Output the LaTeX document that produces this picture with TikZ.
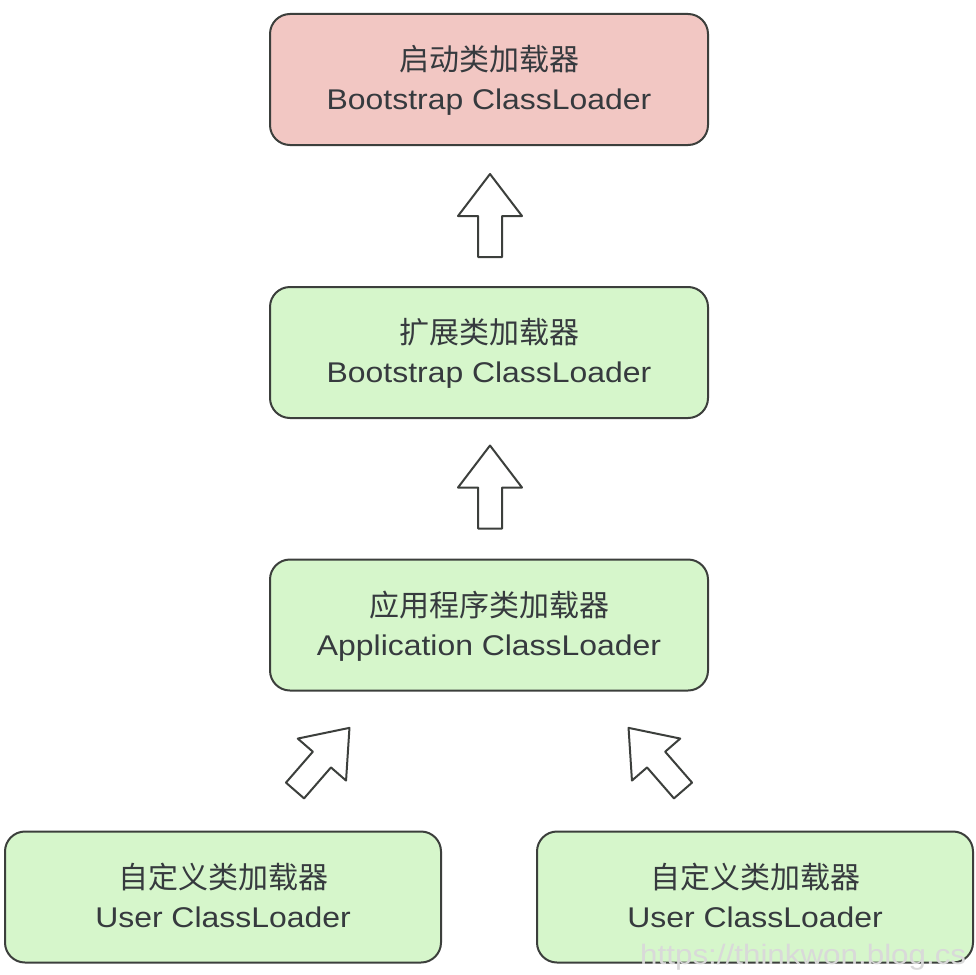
\documentclass[tikz,border=0pt]{standalone}
\usepackage{fontspec}
\setmainfont{Noto Sans CJK SC}
\newfontfamily\cnfont{Noto Sans CJK SC}
\newfontfamily\enfont[FakeStretch=1.12]{Liberation Sans}
\usetikzlibrary{calc}
\definecolor{pinkfill}{HTML}{F2C7C3}
\definecolor{greenfill}{HTML}{D6F6CB}
\definecolor{edge}{HTML}{3C3F3C}
\definecolor{txt}{HTML}{363A3E}
\tikzset{
  loader/.style={draw=edge, line width=2pt, rounded corners=20pt, minimum width=438pt, minimum height=131pt, inner sep=0pt},
  greenbox/.style={loader, fill=greenfill},
  pinkbox/.style={loader, fill=pinkfill},
  cntext/.style={anchor=base, inner sep=0pt, text=txt, font=\cnfont\fontsize{30}{36}\selectfont},
  entext/.style={anchor=base, inner sep=0pt, text=txt, font=\enfont\fontsize{28.5}{34}\selectfont},
  blockarrow/.pic={\draw[draw=edge, line width=2pt, line join=round, fill=white]
     (0,12) -- (41,12) -- (41,32) -- (83,0) -- (41,-32) -- (41,-12) -- (0,-12) -- cycle;}
}
\newcommand\loaderbox[5]{%
  \node[#2] (#1) at #3 {};
  \node[cntext] (#1-cn) at ($(#1.center)+(0,9)$) {#4};
  \node[entext] (#1-en) at ($(#1.center)+(0,-30)$) {#5};
}
\begin{document}
\begin{tikzpicture}[x=1pt,y=1pt]
\useasboundingbox (0,0) rectangle (976,-974);
\fill[white] (0,0) rectangle (976,-974);
\loaderbox{boot}{pinkbox}{(489,-79.5)}{启动类加载器}{Bootstrap ClassLoader}
\loaderbox{ext}{greenbox}{(489,-352.5)}{扩展类加载器}{Bootstrap ClassLoader}
\loaderbox{app}{greenbox}{(489,-625)}{应用程序类加载器}{Application ClassLoader}
\loaderbox{user1}{greenbox, minimum width=436pt}{(223,-897)}{自定义类加载器}{User ClassLoader}
\loaderbox{user2}{greenbox, minimum width=436pt}{(755,-897)}{自定义类加载器}{User ClassLoader}
\coordinate (a1) at ($(ext.north)+(1,29)$);
\coordinate (a2) at ($(app.north)+(1,30)$);
\coordinate (a3) at ($(user1.north)+(72,40)$);
\coordinate (a4) at ($(user2.north)+(-72,40)$);
\pic[rotate=90] at (a1) {blockarrow};
\pic[rotate=90] at (a2) {blockarrow};
\pic[rotate=49] at (a3) {blockarrow};
\pic[rotate=131] at (a4) {blockarrow};
\node[anchor=west, text=gray!30, font=\enfont\fontsize{28}{30}\selectfont, inner sep=0pt] (wm) at (640,-957) {https://thinkwon.blog.cs};
\end{tikzpicture}
\end{document}
